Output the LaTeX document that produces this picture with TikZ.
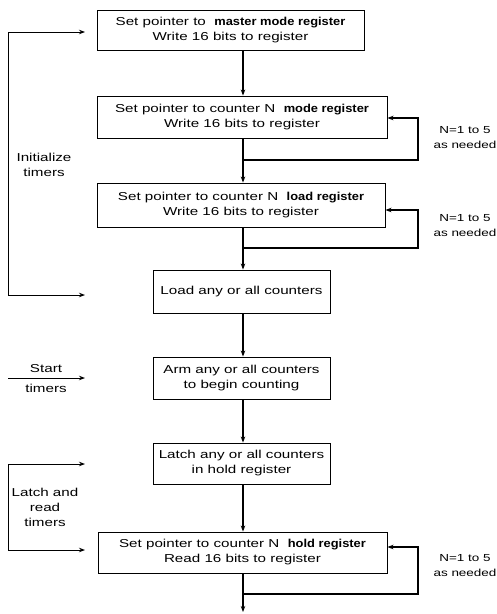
\documentclass[tikz,border=0pt]{standalone}
\usepackage{fontspec}
\setmainfont{Liberation Sans}[FakeStretch=1.32]
\newfontfamily\bdf{Liberation Sans}[FakeStretch=1.12]
\newcommand{\bt}[1]{{\bdf\bfseries #1}}
\usetikzlibrary{arrows.meta}
\begin{document}
\begin{tikzpicture}[x=1pt,y=-1pt,
  every node/.style={font=\fontsize{11.5}{15}\selectfont},
  box/.style={draw,line width=0.9pt,inner sep=0pt,align=center},
  conn/.style={line width=1.1pt,-{Stealth[length=6pt,width=4.5pt]}},
  lbl/.style={align=center,inner sep=0pt},
  nlbl/.style={align=center,inner sep=0pt,font=\fontsize{10.2}{15}\selectfont}]
\useasboundingbox (0,0) rectangle (497,614);
% boxes
\node[box,minimum width=267pt,minimum height=40pt] (b1) at (230.5,30) {Set pointer to \ \bt{master mode register}\\Write 16 bits to register};
\node[box,minimum width=290pt,minimum height=42pt] (b2) at (242,117) {Set pointer to counter N \ \bt{mode register}\\Write 16 bits to register};
\node[box,minimum width=288pt,minimum height=44pt] (b3) at (241,205) {Set pointer to counter N \ \bt{load register}\\Write 16 bits to register};
\node[box,minimum width=177pt,minimum height=43pt] (b4) at (241.5,291.5) {Load any or all counters};
\node[box,minimum width=177pt,minimum height=42pt] (b5) at (241.5,378) {Arm any or all counters\\to begin counting};
\node[box,minimum width=177pt,minimum height=41pt] (b6) at (241.5,463.5) {Latch any or all counters\\in hold register};
\node[box,minimum width=289pt,minimum height=41pt] (b7) at (242.5,552.5) {Set pointer to counter N \ \bt{hold register}\\Read 16 bits to register};
% axis
\coordinate (ax) at (243,0);
\coordinate (end) at (243,612);
% main arrows
\draw[conn] (b1.south -| ax) -- (b2.north -| ax);
\draw[conn] (b2.south -| ax) -- (b3.north -| ax);
\draw[conn] (b3.south -| ax) -- (b4.north -| ax);
\draw[conn] (b4.south -| ax) -- (b5.north -| ax);
\draw[conn] (b5.south -| ax) -- (b6.north -| ax);
\draw[conn] (b6.south -| ax) -- (b7.north -| ax);
\draw[conn] (b7.south -| ax) -- (end);
% loops
\coordinate (l2) at (418,160); \coordinate (r2) at (418,118);
\coordinate (l3) at (418,248); \coordinate (r3) at (418,210);
\coordinate (l7) at (418,594); \coordinate (r7) at (418,547);
\draw[conn] (ax |- l2) -- (l2) -- (r2) -- (r2 -| b2.east);
\draw[conn] (ax |- l3) -- (l3) -- (r3) -- (r3 -| b3.east);
\draw[conn] (ax |- l7) -- (l7) -- (r7) -- (r7 -| b7.east);
\node[nlbl] (n2) at (465,138) {N=1 to 5\\as needed};
\node[nlbl] (n3) at (465,226) {N=1 to 5\\as needed};
\node[nlbl] (n7) at (465,566) {N=1 to 5\\as needed};
% left brackets
\coordinate (i1) at (85,32); \coordinate (i2) at (85,295);
\coordinate (c1) at (8,32); \coordinate (c2) at (8,295);
\draw[line width=1pt,{Stealth[length=6pt,width=4.5pt]}-{Stealth[length=6pt,width=4.5pt]}] (i1) -- (c1) -- (c2) -- (i2);
\node[lbl] (init) at (44,165) {Initialize\\timers};
\coordinate (s1) at (8,378); \coordinate (s2) at (85,378);
\draw[line width=1pt,-{Stealth[length=6pt,width=4.5pt]}] (s1) -- (s2);
\node[lbl] (st1) at (46,369) {Start};
\node[lbl] (st2) at (46,388) {timers};
\coordinate (t1) at (85,464); \coordinate (t2) at (85,550);
\coordinate (d1) at (8,464); \coordinate (d2) at (8,550);
\draw[line width=1pt,{Stealth[length=6pt,width=4.5pt]}-{Stealth[length=6pt,width=4.5pt]}] (t1) -- (d1) -- (d2) -- (t2);
\node[lbl] (lat) at (45,507) {Latch and\\read\\timers};
\end{tikzpicture}
\end{document}
